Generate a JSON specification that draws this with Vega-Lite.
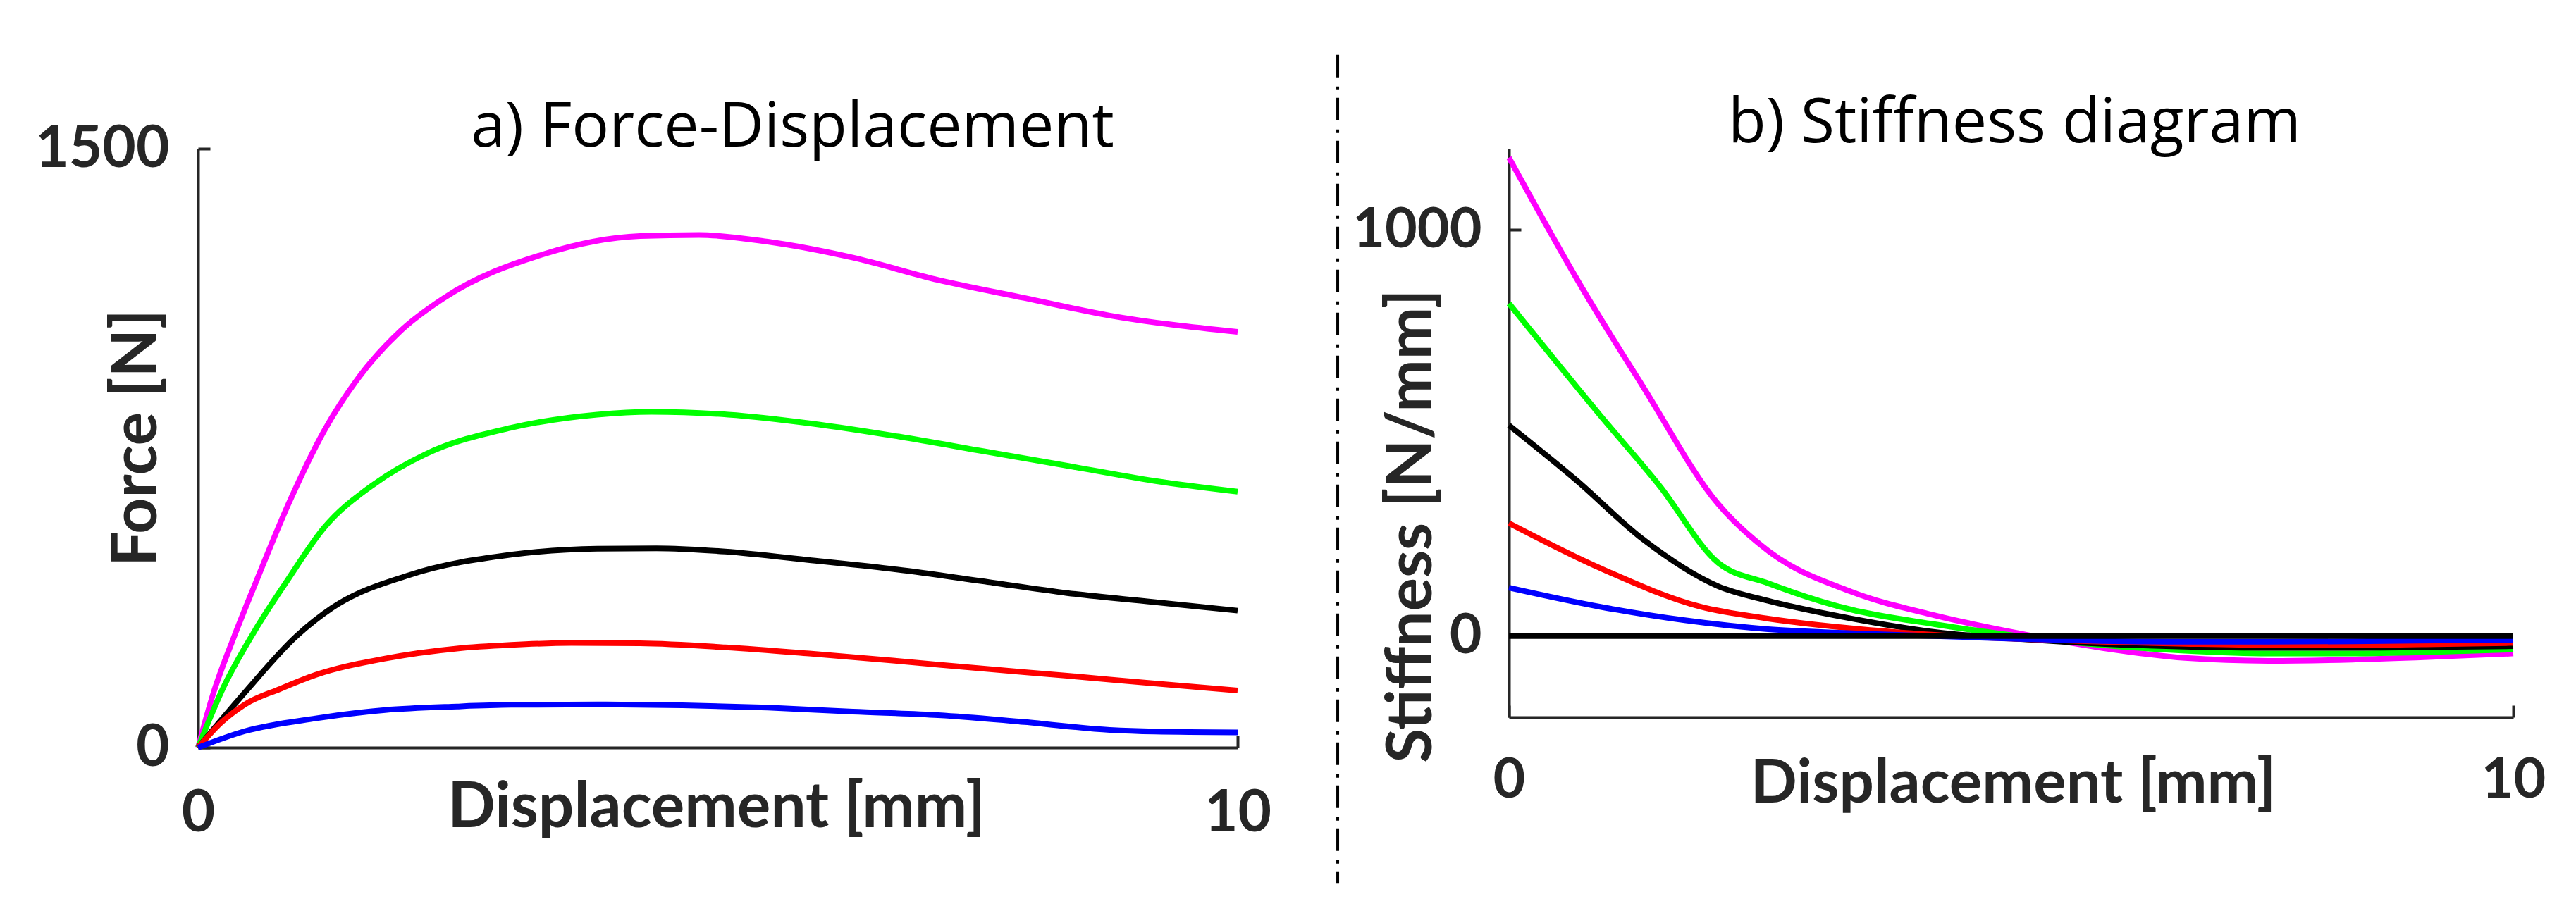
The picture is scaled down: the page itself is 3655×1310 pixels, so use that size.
{
  "$schema": "https://vega.github.io/schema/vega-lite/v6.json",
  "background": "white",
  "padding": {"left": 49, "top": 75, "right": 0, "bottom": 0},
  "bounds": "flush",
  "spacing": 385,
  "config": {
    "view": {"stroke": null},
    "axis": {
      "grid": false,
      "format": "d",
      "labelLimit": 0,
      "labelFont": "Lato",
      "labelFontWeight": "bold",
      "labelColor": "#262626",
      "titleFont": "Lato",
      "titleFontWeight": "bold",
      "titleColor": "#262626",
      "titleFontSize": 89,
      "domainColor": "#262626",
      "domainWidth": 4,
      "tickColor": "#262626",
      "tickWidth": 4,
      "tickSize": -17,
      "labelFlush": false,
      "labelOverlap": false
    },
    "title": {"font": "Open Sans", "fontWeight": "normal", "color": "black", "fontSize": 88, "anchor": "middle", "baseline": "alphabetic", "frame": "group"}
  },
  "datasets": {
    "force": [
      {"d": 0, "F": 0, "s": "magenta"}, {"d": 0.14, "F": 130, "s": "magenta"}, {"d": 0.35, "F": 280, "s": "magenta"}, {"d": 0.55, "F": 410, "s": "magenta"}, {"d": 0.88, "F": 616, "s": "magenta"}, {"d": 1.21, "F": 792, "s": "magenta"}, {"d": 1.54, "F": 925, "s": "magenta"}, {"d": 1.95, "F": 1044, "s": "magenta"}, {"d": 2.36, "F": 1125, "s": "magenta"}, {"d": 3.34, "F": 1237, "s": "magenta"}, {"d": 4.25, "F": 1281, "s": "magenta"}, {"d": 4.82, "F": 1284, "s": "magenta"}, {"d": 5.48, "F": 1267, "s": "magenta"}, {"d": 6.3, "F": 1227, "s": "magenta"}, {"d": 7.12, "F": 1171, "s": "magenta"}, {"d": 7.95, "F": 1126, "s": "magenta"}, {"d": 8.77, "F": 1082, "s": "magenta"}, {"d": 10, "F": 1041, "s": "magenta"},
      {"d": 0, "F": 0, "s": "green"}, {"d": 0.23, "F": 143, "s": "green"}, {"d": 0.54, "F": 290, "s": "green"}, {"d": 0.85, "F": 415, "s": "green"}, {"d": 1.21, "F": 550, "s": "green"}, {"d": 1.7, "F": 661, "s": "green"}, {"d": 2.19, "F": 735, "s": "green"}, {"d": 3.01, "F": 801, "s": "green"}, {"d": 3.84, "F": 834, "s": "green"}, {"d": 4.36, "F": 841, "s": "green"}, {"d": 5.1, "F": 834, "s": "green"}, {"d": 5.92, "F": 811, "s": "green"}, {"d": 6.74, "F": 779, "s": "green"}, {"d": 7.56, "F": 742, "s": "green"}, {"d": 8.38, "F": 705, "s": "green"}, {"d": 9.2, "F": 668, "s": "green"}, {"d": 10, "F": 641, "s": "green"},
      {"d": 0, "F": 0, "s": "black"}, {"d": 0.45, "F": 138, "s": "black"}, {"d": 0.95, "F": 280, "s": "black"}, {"d": 1.29, "F": 350, "s": "black"}, {"d": 2.03, "F": 432, "s": "black"}, {"d": 3.01, "F": 483, "s": "black"}, {"d": 3.84, "F": 498, "s": "black"}, {"d": 4.41, "F": 499, "s": "black"}, {"d": 5.07, "F": 491, "s": "black"}, {"d": 5.9, "F": 469, "s": "black"}, {"d": 6.72, "F": 446, "s": "black"}, {"d": 7.54, "F": 417, "s": "black"}, {"d": 8.36, "F": 387, "s": "black"}, {"d": 9.18, "F": 365, "s": "black"}, {"d": 10, "F": 343, "s": "black"},
      {"d": 0, "F": 0, "s": "red"}, {"d": 0.22, "F": 62, "s": "red"}, {"d": 0.45, "F": 108, "s": "red"}, {"d": 0.79, "F": 147, "s": "red"}, {"d": 1.13, "F": 182, "s": "red"}, {"d": 1.8, "F": 223, "s": "red"}, {"d": 2.49, "F": 248, "s": "red"}, {"d": 3.01, "F": 257, "s": "red"}, {"d": 3.59, "F": 262, "s": "red"}, {"d": 4.25, "F": 261, "s": "red"}, {"d": 5.07, "F": 251, "s": "red"}, {"d": 5.9, "F": 235, "s": "red"}, {"d": 6.72, "F": 217, "s": "red"}, {"d": 7.54, "F": 198, "s": "red"}, {"d": 8.36, "F": 180, "s": "red"}, {"d": 9.18, "F": 161, "s": "red"}, {"d": 10, "F": 143, "s": "red"},
      {"d": 0, "F": 0, "s": "blue"}, {"d": 0.45, "F": 41, "s": "blue"}, {"d": 1.13, "F": 73, "s": "blue"}, {"d": 1.8, "F": 94, "s": "blue"}, {"d": 2.49, "F": 103, "s": "blue"}, {"d": 3.01, "F": 107, "s": "blue"}, {"d": 3.84, "F": 108, "s": "blue"}, {"d": 4.66, "F": 106, "s": "blue"}, {"d": 5.48, "F": 100, "s": "blue"}, {"d": 6.3, "F": 90, "s": "blue"}, {"d": 7.12, "F": 81, "s": "blue"}, {"d": 7.95, "F": 64, "s": "blue"}, {"d": 8.77, "F": 44, "s": "blue"}, {"d": 9.2, "F": 40, "s": "blue"}, {"d": 10, "F": 38, "s": "blue"}
    ],
    "stiffness": [
      {"d": 0, "S": 1178, "s": "magenta"}, {"d": 0.75, "S": 848, "s": "magenta"}, {"d": 1.33, "S": 616, "s": "magenta"}, {"d": 2.08, "S": 326, "s": "magenta"}, {"d": 2.58, "S": 210, "s": "magenta"}, {"d": 3.41, "S": 109, "s": "magenta"}, {"d": 4.24, "S": 51, "s": "magenta"}, {"d": 5.07, "S": 7, "s": "magenta"}, {"d": 5.9, "S": -29, "s": "magenta"}, {"d": 6.73, "S": -54, "s": "magenta"}, {"d": 7.56, "S": -61, "s": "magenta"}, {"d": 8.4, "S": -58, "s": "magenta"}, {"d": 9.23, "S": -51, "s": "magenta"}, {"d": 10, "S": -43, "s": "magenta"},
      {"d": 0, "S": 819, "s": "green"}, {"d": 0.91, "S": 543, "s": "green"}, {"d": 1.5, "S": 370, "s": "green"}, {"d": 2.08, "S": 181, "s": "green"}, {"d": 2.58, "S": 130, "s": "green"}, {"d": 3.41, "S": 65, "s": "green"}, {"d": 4.24, "S": 29, "s": "green"}, {"d": 5.07, "S": 0, "s": "green"}, {"d": 5.9, "S": -22, "s": "green"}, {"d": 6.73, "S": -36, "s": "green"}, {"d": 7.56, "S": -43, "s": "green"}, {"d": 8.4, "S": -43, "s": "green"}, {"d": 9.23, "S": -39, "s": "green"}, {"d": 10, "S": -33, "s": "green"},
      {"d": 0, "S": 519, "s": "black"}, {"d": 0.67, "S": 384, "s": "black"}, {"d": 1.33, "S": 239, "s": "black"}, {"d": 2.08, "S": 123, "s": "black"}, {"d": 2.58, "S": 87, "s": "black"}, {"d": 3.41, "S": 43, "s": "black"}, {"d": 4.24, "S": 10, "s": "black"}, {"d": 5.07, "S": -7, "s": "black"}, {"d": 5.9, "S": -19, "s": "black"}, {"d": 6.73, "S": -26, "s": "black"}, {"d": 7.56, "S": -29, "s": "black"}, {"d": 8.4, "S": -29, "s": "black"}, {"d": 9.23, "S": -27, "s": "black"}, {"d": 10, "S": -25, "s": "black"},
      {"d": 0, "S": 278, "s": "red"}, {"d": 0.91, "S": 167, "s": "red"}, {"d": 1.91, "S": 72, "s": "red"}, {"d": 2.58, "S": 43, "s": "red"}, {"d": 3.41, "S": 19, "s": "red"}, {"d": 4.24, "S": 3, "s": "red"}, {"d": 5.07, "S": -7, "s": "red"}, {"d": 5.9, "S": -14, "s": "red"}, {"d": 6.73, "S": -19, "s": "red"}, {"d": 7.56, "S": -22, "s": "red"}, {"d": 8.4, "S": -22, "s": "red"}, {"d": 9.23, "S": -20, "s": "red"}, {"d": 10, "S": -17, "s": "red"},
      {"d": 0, "S": 119, "s": "blue"}, {"d": 0.91, "S": 72, "s": "blue"}, {"d": 1.75, "S": 39, "s": "blue"}, {"d": 2.58, "S": 17, "s": "blue"}, {"d": 3.41, "S": 7, "s": "blue"}, {"d": 4.24, "S": 0, "s": "blue"}, {"d": 5.07, "S": -7, "s": "blue"}, {"d": 5.9, "S": -12, "s": "blue"}, {"d": 6.73, "S": -14, "s": "blue"}, {"d": 7.56, "S": -14, "s": "blue"}, {"d": 8.4, "S": -13, "s": "blue"}, {"d": 9.23, "S": -11, "s": "blue"}, {"d": 10, "S": -9, "s": "blue"}
    ]
  },
  "hconcat": [
    {
      "width": 1475,
      "height": 850,
      "title": {"text": "a) Force-Displacement", "dx": 106, "offset": -56},
      "data": {"name": "force"},
      "mark": {"type": "line", "strokeWidth": 8, "interpolate": "monotone"},
      "encoding": {
        "x": {"field": "d", "type": "quantitative", "scale": {"domain": [0, 10], "nice": false},
              "axis": {"values": [0, 10], "title": "Displacement [mm]", "labelFontSize": 82, "labelPadding": 70, "titleX": 735, "titleY": 112, "titleBaseline": "alphabetic", "titleAlign": "center"}},
        "y": {"field": "F", "type": "quantitative", "scale": {"domain": [0, 1500], "nice": false},
              "axis": {"values": [0, 1500], "title": "Force [N]", "labelFontSize": 82, "labelPadding": 58, "titleX": -60, "titleY": 410, "titleBaseline": "alphabetic", "titleAlign": "center", "titleAngle": 270}},
        "color": {"field": "s", "type": "nominal", "legend": null,
                  "scale": {"domain": ["blue", "red", "black", "green", "magenta"], "range": ["#0000FF", "#FF0000", "#000000", "#00FF00", "#FF00FF"]}}
      }
    },
    {
      "width": 1425,
      "height": 807,
      "title": {"text": "b) Stiffness diagram", "dx": 5, "offset": -144},
      "layer": [
        {
          "data": {"name": "stiffness"},
          "mark": {"type": "line", "strokeWidth": 8, "interpolate": "monotone"},
          "encoding": {
            "x": {"field": "d", "type": "quantitative", "scale": {"domain": [0, 10], "nice": false},
                  "axis": {"values": [0, 10], "title": "Displacement [mm]", "labelFontSize": 79, "titleFontSize": 87, "labelPadding": 68, "titleX": 715, "titleY": 120, "titleBaseline": "alphabetic", "titleAlign": "center"}},
            "y": {"field": "S", "type": "quantitative", "scale": {"domain": [-200, 1200], "nice": false},
                  "axis": {"values": [0, 1000], "title": "Stiffness [N/mm]", "labelFontSize": 79, "labelPadding": 56, "titleX": -111, "titleY": 535, "titleBaseline": "alphabetic", "titleAlign": "center", "titleAngle": 270}},
            "color": {"field": "s", "type": "nominal", "legend": null,
                      "scale": {"domain": ["blue", "red", "black", "green", "magenta"], "range": ["#0000FF", "#FF0000", "#000000", "#00FF00", "#FF00FF"]}}
          }
        },
        {
          "data": {"values": [{}]},
          "mark": {"type": "rule", "strokeWidth": 8, "color": "black"},
          "encoding": {"y": {"datum": 0}}
        },
        {
          "data": {"values": [{}]},
          "mark": {"type": "rule", "strokeWidth": 4, "color": "black", "strokeDash": [32, 13, 5, 11]},
          "encoding": {"x": {"datum": -1.705}, "y": {"datum": 1431}, "y2": {"datum": -608}}
        }
      ]
    }
  ]
}
